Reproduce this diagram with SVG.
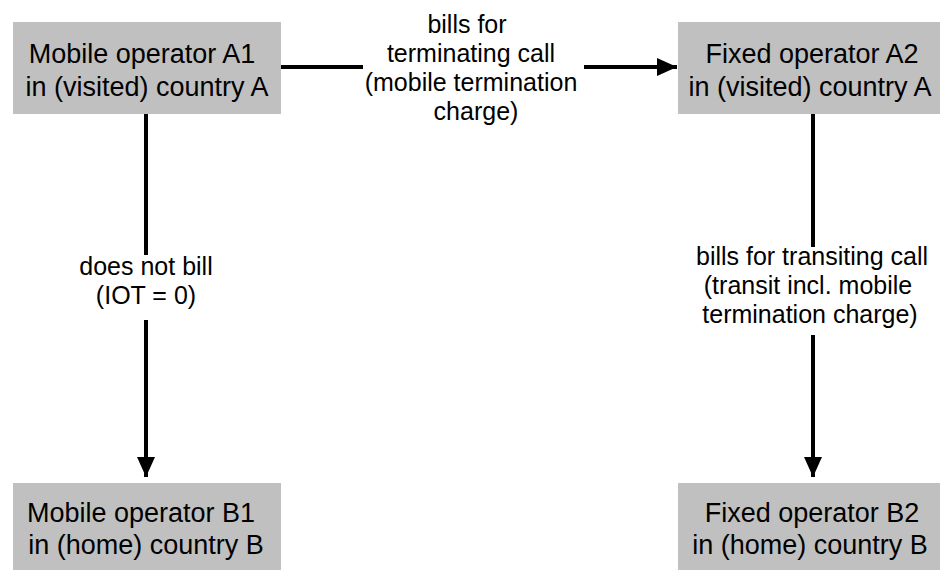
<svg xmlns="http://www.w3.org/2000/svg" width="940" height="570" viewBox="0 0 940 570">
<style>
.box{fill:#c0c0c0;stroke:none}
.nt{font-family:"Liberation Sans",Arial,sans-serif;font-size:27px;fill:#000;text-anchor:middle}
.lt{font-family:"Liberation Sans",Arial,sans-serif;font-size:25px;fill:#000;text-anchor:middle}
.ln{stroke:#000;stroke-width:4;fill:none}
</style>
<defs>
<marker id="ah" markerUnits="userSpaceOnUse" markerWidth="20" markerHeight="20" viewBox="0 0 20 20" refX="20" refY="10" orient="auto">
<path d="M0,1 L20,10 L0,19 Z" fill="#000"/>
</marker>
</defs>
<rect width="940" height="570" fill="#fff"/>
<g id="connectors">
<line class="ln" x1="281" y1="67" x2="363" y2="67"/>
<line class="ln" x1="584" y1="67" x2="677" y2="67" marker-end="url(#ah)"/>
<line class="ln" x1="146" y1="114" x2="146" y2="255"/>
<line class="ln" x1="146" y1="320" x2="146" y2="477" marker-end="url(#ah)"/>
<line class="ln" x1="813" y1="114" x2="813" y2="247"/>
<line class="ln" x1="813" y1="335" x2="813" y2="477" marker-end="url(#ah)"/>
<text class="lt" x="467" y="33">bills for</text>
<text class="lt" x="471" y="62">terminating call</text>
<text class="lt" x="471" y="91">(mobile termination</text>
<text class="lt" x="476" y="120">charge)</text>
<text class="lt" x="146" y="275">does not bill</text>
<text class="lt" x="146" y="304">(IOT = 0)</text>
<text class="lt" x="812" y="265">bills for transiting call</text>
<text class="lt" x="808" y="294">(transit incl. mobile</text>
<text class="lt" x="810" y="323">termination charge)</text>
</g>
<g id="nodeA1">
<rect class="box" x="13" y="22" width="268" height="92"/>
<text class="nt" x="142" y="63">Mobile operator A1</text>
<text class="nt" x="147" y="96">in (visited) country A</text>
</g>
<g id="nodeA2">
<rect class="box" x="678" y="22" width="262" height="92"/>
<text class="nt" x="812" y="63">Fixed operator A2</text>
<text class="nt" x="810" y="96">in (visited) country A</text>
</g>
<g id="nodeB1">
<rect class="box" x="13" y="483" width="268" height="87"/>
<text class="nt" x="141" y="522">Mobile operator B1</text>
<text class="nt" x="146" y="554">in (home) country B</text>
</g>
<g id="nodeB2">
<rect class="box" x="678" y="483" width="262" height="87"/>
<text class="nt" x="812" y="522">Fixed operator B2</text>
<text class="nt" x="810" y="554">in (home) country B</text>
</g>
</svg>
